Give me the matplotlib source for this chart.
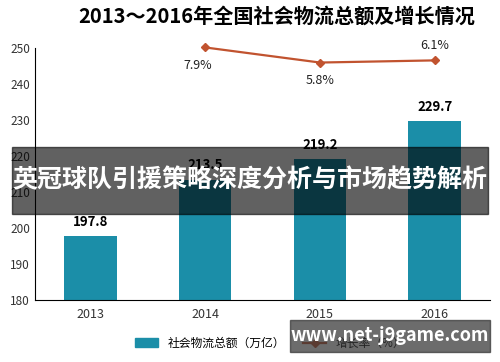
import matplotlib
matplotlib.use("Agg")
import matplotlib.pyplot as plt
from matplotlib.lines import Line2D
from matplotlib.patches import Patch

plt.rcParams["font.family"] = ["Noto Sans CJK SC", "DejaVu Sans"]

years = ["2013", "2014", "2015", "2016"]
totals = [197.8, 213.5, 219.2, 229.7]
growth_years = [1, 2, 3]
growth = [7.9, 5.8, 6.1]
growth_labels = ["7.9%", "5.8%", "6.1%"]

BAR = "#1b8ea8"
LINE = "#c1532f"

fig = plt.figure(figsize=(5.0, 3.62), dpi=100)
ax = fig.add_axes([0.07, 0.171, 0.91, 0.696])
x = range(len(years))
ax.bar(x, totals, width=0.46, color=BAR, zorder=2)
for xi, v in zip(x, totals):
    ax.text(xi, v + 2.0, f"{v:.1f}", ha="center", va="bottom",
            fontsize=9.5, fontweight="bold")
ax.set_xlim(-0.48, 3.48)
ax.set_ylim(180, 250)
ax.set_yticks(range(180, 251, 10))
ax.set_xticks(list(x))
ax.set_xticklabels(years)
ax.tick_params(length=0, labelsize=8.5, colors="#333333")
ax.tick_params(axis="x", pad=6, labelsize=9)
for s in ("top", "right"):
    ax.spines[s].set_visible(False)

ax2 = ax.twinx()
ax2.set_ylim(-27.2, 7.8)
ax2.axis("off")
ax2.plot(growth_years, growth, "-D", color=LINE, lw=1.6, ms=4, clip_on=False, zorder=3)
offsets = [(-0.06, -1.6, "center", "top"), (0.0, -1.6, "center", "top"), (0.0, 1.2, "center", "bottom")]
for gx, gv, lab, (dx, dy, ha, va) in zip(growth_years, growth, growth_labels, offsets):
    ax2.text(gx + dx, gv + dy, lab, ha=ha, va=va, fontsize=9, color="#222222")

fig.text(0.553, 0.955, "2013～2016年全国社会物流总额及增长情况", ha="center",
         va="center", fontsize=14.5, fontweight="bold")

handles = [Patch(color=BAR, label="社会物流总额（万亿）"),
           Line2D([], [], color=LINE, marker="D", ms=4, lw=1.6, label="增长率（%）")]
fig.legend(handles=handles, loc="center", bbox_to_anchor=(0.54, 0.052), ncol=2,
           frameon=False, fontsize=8.5, handlelength=2.0, columnspacing=1.5)

# overlay banner and watermark box
fig.patches.append(plt.Rectangle((0.024, 0.41), 0.952, 0.185, transform=fig.transFigure,
                                 color="#000000", alpha=0.62, zorder=10))
fig.text(0.5, 0.502, "英冠球队引援策略深度分析与市场趋势解析", ha="center", va="center",
         fontsize=18, fontweight="bold", color="white", zorder=11)
fig.patches.append(plt.Rectangle((0.58, 0.027), 0.4, 0.09, transform=fig.transFigure,
                                 color="#333333", alpha=0.72, zorder=10))
fig.text(0.78, 0.072, "www.net-j9game.com", ha="center", va="center",
         fontsize=13, fontweight="bold", color="white", zorder=11)

fig.savefig("out.png", dpi=100)
